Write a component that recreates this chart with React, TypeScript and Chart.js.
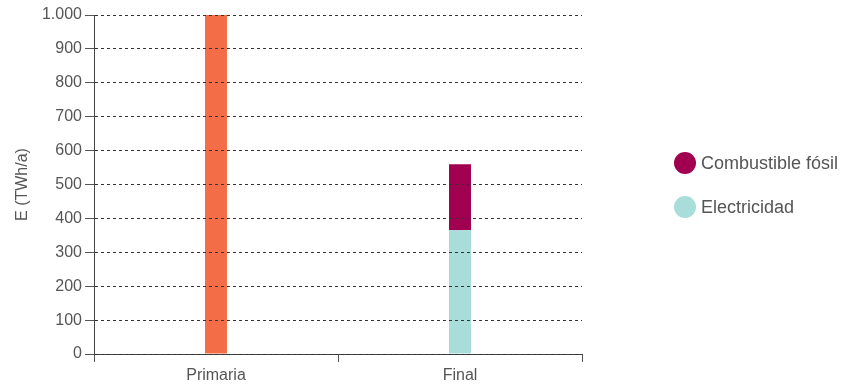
import React, { useEffect, useRef } from "react";
import { Chart, registerables } from "chart.js";

Chart.register(...registerables);

const categories = ["Primaria", "Final"];
const primariaValues = [1000, null];
const electricidadValues = [null, 365];
const fosilValues = [null, 195];
const legendLabels = ["Combustible fósil", "Electricidad"];
const colors = { primaria: "#F36E47", fosil: "#A0004F", electricidad: "#A8DDD9" };
const yTitle = "E (TWh/a)";

const FONT = "'Liberation Sans', Arial, sans-serif";
const TEXT = "#555";

const yAxisLinePlugin = {
  id: "yAxisLine",
  afterDraw(chart: any) {
    const area = chart.chartArea;
    const x = Math.round(area.left) + 0.5;
    const ctx = chart.ctx;
    ctx.save();
    ctx.strokeStyle = "#444";
    ctx.lineWidth = 1;
    ctx.setLineDash([]);
    ctx.beginPath();
    ctx.moveTo(x, area.top);
    ctx.lineTo(x, area.bottom + 1);
    ctx.stroke();
    ctx.restore();
  },
};

export default function App() {
  const ref = useRef<HTMLCanvasElement | null>(null);

  useEffect(() => {
    if (!ref.current) return;
    const chart = new Chart(ref.current, {
      type: "bar",
      data: {
        labels: categories,
        datasets: [
          { label: "Primaria", data: primariaValues, backgroundColor: colors.primaria, stack: "s" },
          { label: legendLabels[1], data: electricidadValues, backgroundColor: colors.electricidad, stack: "s" },
          { label: legendLabels[0], data: fosilValues, backgroundColor: colors.fosil, stack: "s" },
        ],
      },
      plugins: [yAxisLinePlugin],
      options: {
        animation: false,
        responsive: true,
        maintainAspectRatio: false,
        layout: { padding: { top: 15, right: 259, left: 0, bottom: 0 } },
        plugins: { legend: { display: false }, tooltip: { enabled: false } },
        datasets: { bar: { barPercentage: 0.09, categoryPercentage: 1 } },
        scales: {
          x: {
            stacked: true,
            grid: {
              display: true,
              drawOnChartArea: false,
              offset: true,
              tickLength: 8,
              color: "#555",
              tickColor: "#555",
            },
            border: { display: true, color: "#444", width: 1 },
            ticks: { color: TEXT, font: { family: FONT, size: 16 }, padding: 4 },
            afterFit: (s: any) => { s.height = 30; },
          },
          y: {
            stacked: true,
            min: 0,
            max: 1000,
            grid: {
              color: "#333",
              lineWidth: 1,
              tickLength: 9,
              tickColor: "#555",
              tickBorderDash: [],
              z: 1,
            },
            border: { display: true, color: "#444", width: 1, dash: [3, 3], z: 1 },
            ticks: {
              stepSize: 100,
              color: TEXT,
              font: { family: FONT, size: 16 },
              padding: 3,
              callback: (v: any) => Number(v).toLocaleString("de-DE"),
            },
            title: {
              display: true,
              text: yTitle,
              color: TEXT,
              font: { family: FONT, size: 16 },
              padding: { top: 13, bottom: 4 },
            },
            afterFit: (s: any) => { s.width = 94; },
          },
        },
      },
    });
    return () => chart.destroy();
  }, []);

  const legendItems = [
    { label: legendLabels[0], color: colors.fosil, top: 151 },
    { label: legendLabels[1], color: colors.electricidad, top: 195 },
  ];

  return (
    <div style={{ position: "absolute", left: 0, top: 0, width: 841, height: 384, background: "#fff" }}>
      <canvas ref={ref} />
      {legendItems.map((it) => (
        <div
          key={it.label}
          style={{
            position: "absolute",
            left: 674,
            top: it.top,
            display: "flex",
            alignItems: "center",
            fontFamily: FONT,
            fontSize: 18,
            color: TEXT,
            whiteSpace: "nowrap",
            height: 24,
          }}
        >
          <span
            style={{
              display: "inline-block",
              width: 22,
              height: 22,
              borderRadius: "50%",
              background: it.color,
              marginRight: 5,
              flex: "none",
            }}
          />
          <span>{it.label}</span>
        </div>
      ))}
    </div>
  );
}
